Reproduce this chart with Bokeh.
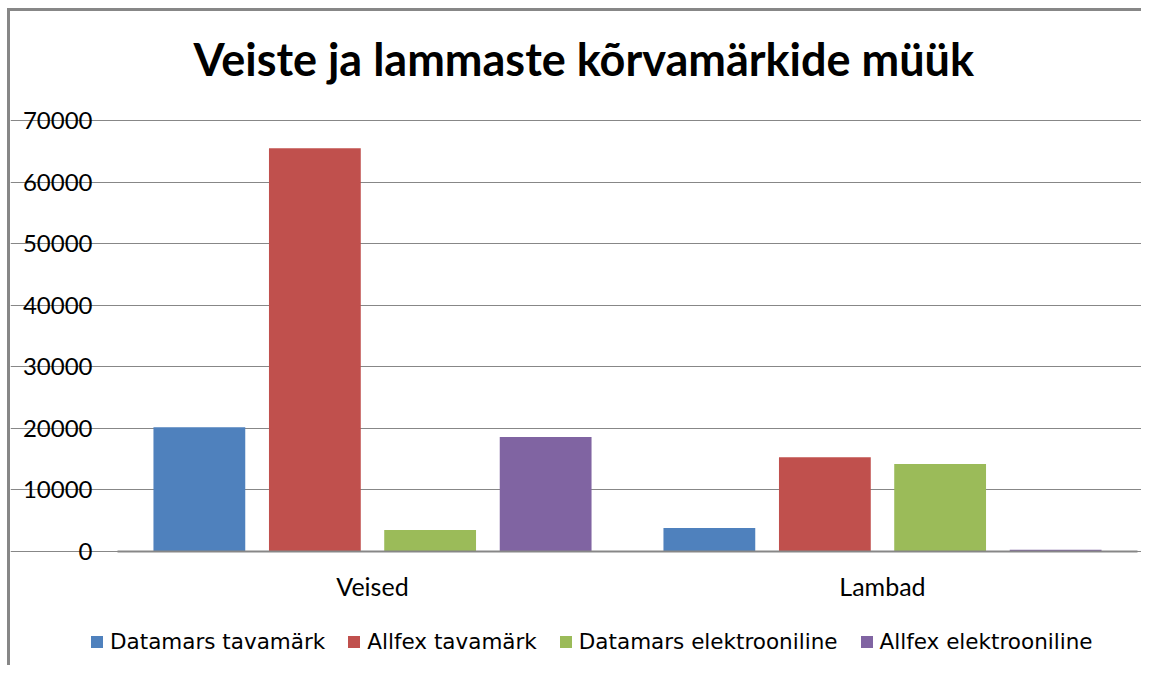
from bokeh.plotting import figure
from bokeh.models import Range1d, Legend, LegendItem, FixedTicker, ColumnDataSource
from bokeh.transform import dodge
from bokeh.embed import file_html
from bokeh.resources import INLINE

categories = ["Veised", "Lambad"]
series = ["Datamars tavamärk", "Allfex tavamärk", "Datamars elektrooniline", "Allfex elektrooniline"]
datamars_tava = [20200, 3800]
allfex_tava = [65500, 15300]
datamars_elektr = [3500, 14200]
allfex_elektr = [18600, 300]
y_ticks = [0, 10000, 20000, 30000, 40000, 50000, 60000, 70000]
title_text = "Veiste ja lammaste kõrvamärkide müük"

colors = ["#4F81BD", "#C0504D", "#9BBB59", "#8064A2"]
offsets = [-0.3395, -0.113, 0.113, 0.3395]
keys = ["dt", "at", "de", "ae"]

# layout (page pixels)
CANVAS_L, CANVAS_T, W, H = 10, 11, 1134, 657
TOP_BORDER = 84
PLOT_L, PLOT_R, PLOT_T, PLOT_B = 117, 1137, 120, 551
FRAME_T = CANVAS_T + TOP_BORDER
FRAME_B = CANVAS_T + H
ncat = len(categories)
ymax = y_ticks[-1]
px_x = (PLOT_R - PLOT_L) / ncat
px_y = (PLOT_B - PLOT_T) / ymax
x_start = (CANVAS_L - PLOT_L) / px_x
x_end = ncat + (CANVAS_L + W - PLOT_R) / px_x
y_start = -(FRAME_B - PLOT_B) / px_y
y_end = ymax + (PLOT_T - FRAME_T) / px_y

cat_pos = [i + 0.5 for i in range(ncat)]
src = ColumnDataSource(dict(x=cat_pos, dt=datamars_tava, at=allfex_tava,
                            de=datamars_elektr, ae=allfex_elektr))

p = figure(x_range=Range1d(x_start, x_end), y_range=Range1d(y_start, y_end),
           width=W, height=H, output_backend="svg", toolbar_location=None,
           min_border_left=0, min_border_right=0, min_border_top=TOP_BORDER, min_border_bottom=0)
p.styles = {"margin-left": "7px", "margin-top": "8px",
            "border-left": "3px solid #878787", "border-top": "3px solid #878787"}
p.outline_line_color = None

p.title.text = title_text
p.title.text_font = "Lato"
p.title.text_font_style = "bold"
p.title.text_font_size = "45px"
p.title.align = "left"
p.title.offset = 183
p.title.standoff = 20
p.title.text_color = "#000000"

renderers = []
for k, off, c in zip(keys, offsets, colors):
    r = p.vbar(x=dodge("x", off), top=k, width=0.18, source=src,
               fill_color=c, line_color=None)
    renderers.append(r)

p.xgrid.grid_line_color = None
p.ygrid.grid_line_color = "#878787"
p.ygrid.grid_line_width = 1
p.ygrid.bounds = (0, ncat)

p.yaxis.ticker = FixedTicker(ticks=y_ticks)
p.yaxis.fixed_location = 0
p.yaxis.axis_line_color = None
p.yaxis.major_tick_line_color = None
p.yaxis.minor_tick_line_color = None
p.yaxis.major_tick_out = 0
p.yaxis.major_label_standoff = 25
p.yaxis.major_label_text_font = "Lato"
p.yaxis.major_label_text_font_size = "24px"
p.yaxis.major_label_text_color = "#000000"

p.xaxis.ticker = FixedTicker(ticks=cat_pos)
p.xaxis.major_label_overrides = {pos: name for pos, name in zip(cat_pos, categories)}
p.xaxis.fixed_location = 0
p.xaxis.bounds = (0, ncat)
p.xaxis.axis_line_color = "#878787"
p.xaxis.axis_line_width = 2
p.xaxis.major_tick_line_color = None
p.xaxis.minor_tick_line_color = None
p.xaxis.major_tick_out = 0
p.xaxis.major_label_standoff = 19
p.xaxis.major_label_text_font = "Lato"
p.xaxis.major_label_text_font_size = "25px"
p.xaxis.major_label_text_color = "#000000"

legend = Legend(items=[LegendItem(label=n, renderers=[r]) for n, r in zip(series, renderers)],
                location=(79, 14), orientation="horizontal", padding=0, margin=0,
                border_line_color=None, background_fill_alpha=0, glyph_width=15,
                glyph_height=15, label_standoff=6, label_height=24, spacing=21,
                label_text_font="DejaVu Sans", label_text_font_size="21.5px",
                label_text_color="#000000")
p.add_layout(legend, "center")

open("out.html", "w").write(file_html(p, INLINE))
